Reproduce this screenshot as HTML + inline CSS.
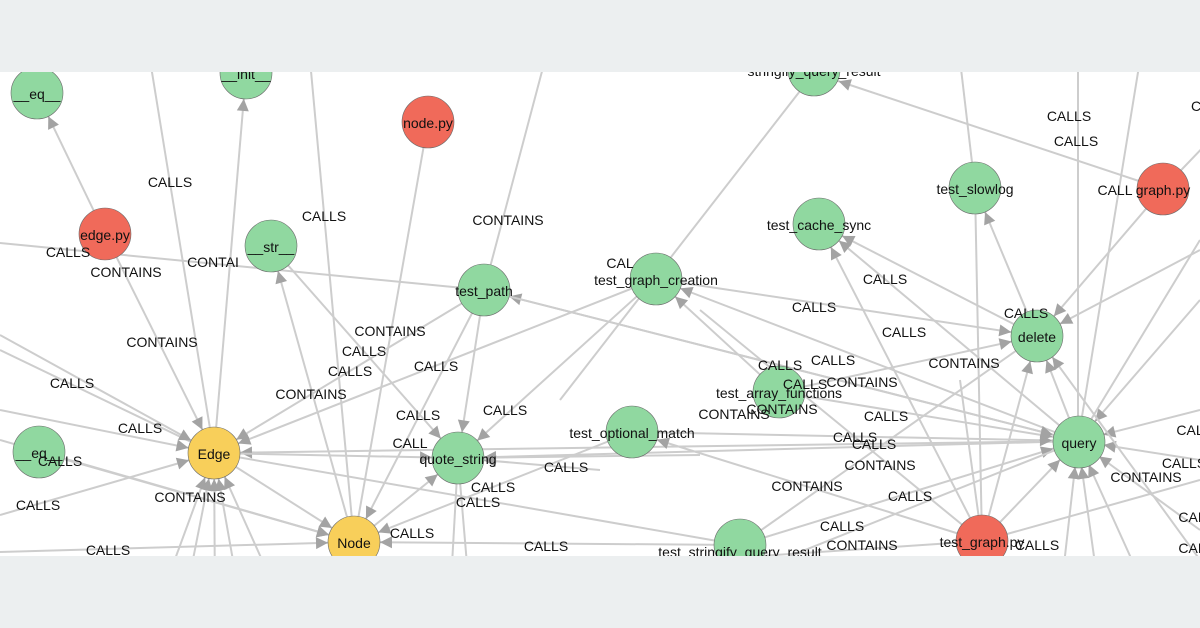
<!DOCTYPE html>
<html><head><meta charset="utf-8"><style>
html,body{margin:0;padding:0;width:1200px;height:628px;overflow:hidden;background:#eceff0}
svg{display:block}
text{font-family:"Liberation Sans",Arial,sans-serif;font-size:14px;fill:#111}
.l{stroke:#cdcdcd;stroke-width:2;fill:none}
.a{stroke:#cdcdcd;stroke-width:2;fill:none;marker-end:url(#ar)}
.e{text-anchor:middle;dominant-baseline:central}
.n{stroke:#6a6a6a;stroke-width:0.6}
</style></head><body>
<svg width="1200" height="628" viewBox="0 0 1200 628">
<defs>
<marker id="ar" markerUnits="userSpaceOnUse" markerWidth="60" markerHeight="60" refX="0" refY="0" viewBox="-60 -30 60 60" orient="auto" overflow="visible">
<path d="M-26,0 L-38,-6 L-38,6 z" fill="#a3a3a3"/>
</marker>
<clipPath id="c"><rect x="0" y="72" width="1200" height="484"/></clipPath>
</defs>
<rect x="0" y="72" width="1200" height="484" fill="#fff"/>
<g clip-path="url(#c)">
<!-- edges -->
<g>
<line class="a" x1="105" y1="234" x2="37" y2="93"/>
<line class="l" x1="150" y1="60" x2="214" y2="453"/>
<line class="a" x1="214" y1="453" x2="246" y2="73"/>
<line class="l" x1="310" y1="60" x2="354" y2="542"/>
<line class="l" x1="428" y1="122" x2="354" y2="542"/>
<line class="l" x1="545" y1="60" x2="484" y2="290"/>
<line class="a" x1="105" y1="234" x2="214" y2="453"/>
<line class="l" x1="0" y1="243" x2="484" y2="290"/>
<line class="a" x1="354" y1="542" x2="271" y2="246"/>
<line class="a" x1="271" y1="246" x2="458" y2="458"/>
<line class="a" x1="484" y1="290" x2="214" y2="453"/>
<line class="a" x1="484" y1="290" x2="458" y2="458"/>
<line class="a" x1="484" y1="290" x2="354" y2="542"/>
<line class="a" x1="656" y1="279" x2="214" y2="453"/>
<line class="a" x1="656" y1="279" x2="458" y2="458"/>
<line class="l" x1="814" y1="73" x2="560" y2="400"/>
<line class="a" x1="1078" y1="441" x2="214" y2="453"/>
<line class="a" x1="1078" y1="441" x2="458" y2="458"/>
<line class="a" x1="1078" y1="441" x2="484" y2="290"/>
<line class="a" x1="1078" y1="441" x2="656" y2="279"/>
<line class="a" x1="779" y1="392" x2="656" y2="279"/>
<line class="a" x1="1163" y1="189" x2="814" y2="73"/>
<line class="a" x1="1163" y1="189" x2="1037" y2="336"/>
<line class="l" x1="1163" y1="189" x2="1210" y2="140"/>
<line class="l" x1="960" y1="60" x2="975" y2="188"/>
<line class="l" x1="1078" y1="60" x2="1078" y2="441"/>
<line class="l" x1="1140" y1="60" x2="1078" y2="441"/>
<line class="a" x1="1037" y1="336" x2="975" y2="188"/>
<line class="a" x1="1037" y1="336" x2="819" y2="224"/>
<line class="a" x1="1078" y1="441" x2="819" y2="224"/>
<line class="a" x1="982" y1="541" x2="819" y2="224"/>
<line class="a" x1="656" y1="279" x2="1037" y2="336"/>
<line class="a" x1="779" y1="392" x2="1037" y2="336"/>
<line class="a" x1="1078" y1="441" x2="1037" y2="336"/>
<line class="a" x1="982" y1="541" x2="1037" y2="336"/>
<line class="a" x1="982" y1="541" x2="632" y2="432"/>
<line class="a" x1="982" y1="541" x2="1078" y2="441"/>
<line class="a" x1="740" y1="545" x2="1078" y2="441"/>
<line class="a" x1="632" y1="432" x2="1078" y2="441"/>
<line class="a" x1="779" y1="392" x2="1078" y2="441"/>
<line class="a" x1="484" y1="290" x2="1078" y2="441"/>
<line class="a" x1="1200" y1="300" x2="1078" y2="441"/>
<line class="a" x1="1200" y1="410" x2="1078" y2="441"/>
<line class="a" x1="1200" y1="460" x2="1078" y2="441"/>
<line class="a" x1="1200" y1="530" x2="1078" y2="441"/>
<line class="a" x1="1150" y1="600" x2="1078" y2="441"/>
<line class="a" x1="1100" y1="600" x2="1078" y2="441"/>
<line class="a" x1="1060" y1="600" x2="1078" y2="441"/>
<line class="a" x1="1200" y1="250" x2="1037" y2="336"/>
<line class="l" x1="1200" y1="240" x2="1078" y2="441"/>
<line class="a" x1="1200" y1="560" x2="1037" y2="336"/>
<line class="l" x1="982" y1="541" x2="960" y2="380"/>
<line class="l" x1="982" y1="541" x2="975" y2="188"/>
<line class="l" x1="982" y1="541" x2="700" y2="310"/>
<line class="l" x1="740" y1="545" x2="1037" y2="336"/>
<line class="l" x1="0" y1="350" x2="214" y2="453"/>
<line class="a" x1="0" y1="335" x2="214" y2="453"/>
<line class="a" x1="0" y1="410" x2="214" y2="453"/>
<line class="a" x1="0" y1="515" x2="214" y2="453"/>
<line class="a" x1="39" y1="452" x2="354" y2="542"/>
<line class="a" x1="0" y1="440" x2="354" y2="542"/>
<line class="a" x1="214" y1="453" x2="354" y2="542"/>
<line class="a" x1="214" y1="453" x2="458" y2="458"/>
<line class="a" x1="354" y1="542" x2="458" y2="458"/>
<line class="l" x1="214" y1="453" x2="740" y2="545"/>
<line class="a" x1="160" y1="600" x2="214" y2="453"/>
<line class="a" x1="185" y1="600" x2="214" y2="453"/>
<line class="a" x1="215" y1="600" x2="214" y2="453"/>
<line class="a" x1="240" y1="600" x2="214" y2="453"/>
<line class="a" x1="280" y1="600" x2="214" y2="453"/>
<line class="a" x1="300" y1="600" x2="354" y2="542"/>
<line class="a" x1="420" y1="600" x2="354" y2="542"/>
<line class="a" x1="0" y1="552" x2="354" y2="542"/>
<line class="a" x1="740" y1="545" x2="354" y2="542"/>
<line class="a" x1="632" y1="432" x2="354" y2="542"/>
<line class="a" x1="600" y1="470" x2="458" y2="458"/>
<line class="a" x1="700" y1="455" x2="458" y2="458"/>
<line class="l" x1="458" y1="458" x2="470" y2="600"/>
<line class="l" x1="458" y1="458" x2="450" y2="600"/>
<line class="l" x1="982" y1="541" x2="1200" y2="480"/>
<line class="l" x1="982" y1="541" x2="700" y2="560"/>
<line class="l" x1="780" y1="560" x2="1078" y2="441"/>
</g>
<!-- nodes -->
<g class="n">
<circle cx="37" cy="93" r="26" fill="#90d8a0"/>
<circle cx="246" cy="73" r="26" fill="#90d8a0"/>
<circle cx="428" cy="122" r="26" fill="#f06a5a"/>
<circle cx="105" cy="234" r="26" fill="#f06a5a"/>
<circle cx="271" cy="246" r="26" fill="#90d8a0"/>
<circle cx="484" cy="290" r="26" fill="#90d8a0"/>
<circle cx="214" cy="453" r="26" fill="#f8cf5a"/>
<circle cx="39" cy="452" r="26" fill="#90d8a0"/>
<circle cx="458" cy="458" r="26" fill="#90d8a0"/>
<circle cx="354" cy="542" r="26" fill="#f8cf5a"/>
<circle cx="814" cy="70" r="26" fill="#90d8a0"/>
<circle cx="819" cy="224" r="26" fill="#90d8a0"/>
<circle cx="975" cy="188" r="26" fill="#90d8a0"/>
<circle cx="1163" cy="189" r="26" fill="#f06a5a"/>
<circle cx="656" cy="279" r="26" fill="#90d8a0"/>
<circle cx="1037" cy="336" r="26" fill="#90d8a0"/>
<circle cx="779" cy="392" r="26" fill="#90d8a0"/>
<circle cx="632" cy="432" r="26" fill="#90d8a0"/>
<circle cx="1079" cy="442" r="26" fill="#90d8a0"/>
<circle cx="982" cy="541" r="26" fill="#f06a5a"/>
<circle cx="740" cy="545" r="26" fill="#90d8a0"/>
</g>
<!-- node labels -->
<g class="e">
<text x="37" y="94">__eq__</text>
<text x="246" y="74">__init__</text>
<text x="428" y="123">node.py</text>
<text x="105" y="235">edge.py</text>
<text x="271" y="247">__str__</text>
<text x="484" y="291">test_path</text>
<text x="214" y="454">Edge</text>
<text x="39" y="453">__eq__</text>
<text x="458" y="459">quote_string</text>
<text x="354" y="543">Node</text>
<text x="814" y="71">stringify_query_result</text>
<text x="819" y="225">test_cache_sync</text>
<text x="975" y="189">test_slowlog</text>
<text x="1163" y="190">graph.py</text>
<text x="656" y="280">test_graph_creation</text>
<text x="1037" y="337">delete</text>
<text x="779" y="393">test_array_functions</text>
<text x="632" y="433">test_optional_match</text>
<text x="1079" y="443">query</text>
<text x="982" y="542">test_graph.py</text>
<text x="740" y="552">test_stringify_query_result</text>
</g>
<!-- edge labels -->
<g class="e">
<text x="1069" y="116">CALLS</text>
<text x="1076" y="141">CALLS</text>
<text x="1115" y="190">CALL</text>
<text x="1196" y="106">C</text>
<text x="170" y="182">CALLS</text>
<text x="324" y="216">CALLS</text>
<text x="508" y="220">CONTAINS</text>
<text x="68" y="252">CALLS</text>
<text x="126" y="272">CONTAINS</text>
<text x="213" y="262">CONTAI</text>
<text x="620" y="263">CAL</text>
<text x="885" y="279">CALLS</text>
<text x="814" y="307">CALLS</text>
<text x="904" y="332">CALLS</text>
<text x="1026" y="313">CALLS</text>
<text x="390" y="331">CONTAINS</text>
<text x="364" y="351">CALLS</text>
<text x="162" y="342">CONTAINS</text>
<text x="350" y="371">CALLS</text>
<text x="436" y="366">CALLS</text>
<text x="833" y="360">CALLS</text>
<text x="780" y="365">CALLS</text>
<text x="311" y="394">CONTAINS</text>
<text x="72" y="383">CALLS</text>
<text x="964" y="363">CONTAINS</text>
<text x="805" y="384">CALLS</text>
<text x="862" y="382">CONTAINS</text>
<text x="782" y="409">CONTAINS</text>
<text x="734" y="414">CONTAINS</text>
<text x="418" y="415">CALLS</text>
<text x="505" y="410">CALLS</text>
<text x="140" y="428">CALLS</text>
<text x="886" y="416">CALLS</text>
<text x="855" y="437">CALLS</text>
<text x="874" y="444">CALLS</text>
<text x="410" y="443">CALL</text>
<text x="880" y="465">CONTAINS</text>
<text x="566" y="467">CALLS</text>
<text x="493" y="487">CALLS</text>
<text x="478" y="502">CALLS</text>
<text x="190" y="497">CONTAINS</text>
<text x="38" y="505">CALLS</text>
<text x="60" y="461">CALLS</text>
<text x="807" y="486">CONTAINS</text>
<text x="910" y="496">CALLS</text>
<text x="1184" y="463">CALLS</text>
<text x="1146" y="477">CONTAINS</text>
<text x="1190" y="430">CAL</text>
<text x="1192" y="517">CAL</text>
<text x="1192" y="548">CAL</text>
<text x="412" y="533">CALLS</text>
<text x="546" y="546">CALLS</text>
<text x="108" y="550">CALLS</text>
<text x="842" y="526">CALLS</text>
<text x="862" y="545">CONTAINS</text>
<text x="1037" y="545">CALLS</text>
</g>
</g>
</svg>
</body></html>
